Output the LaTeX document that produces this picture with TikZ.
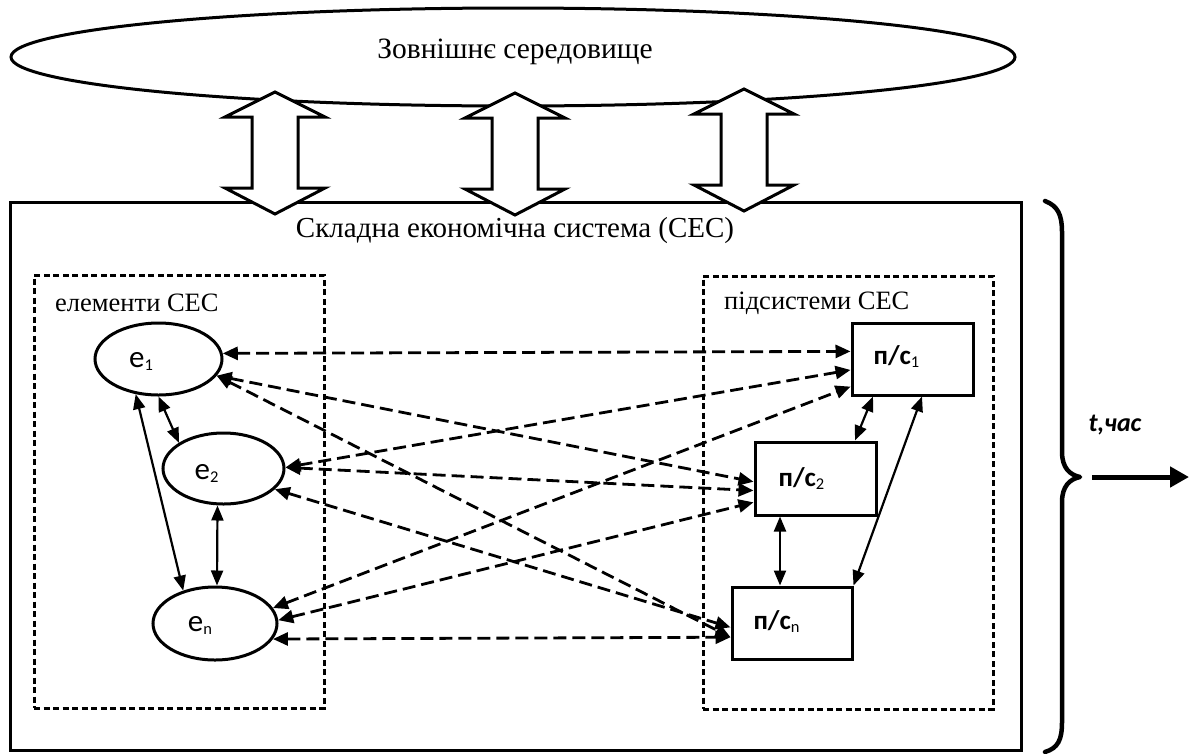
\documentclass[tikz,border=0pt]{standalone}
\usepackage{fontspec}
\setmainfont{Liberation Serif}
\newfontfamily\calfont{Carlito}
\usetikzlibrary{arrows.meta,shapes.geometric}
\newcommand\sbx[1]{\raisebox{-3pt}{\fontsize{16.5}{17}\selectfont\mdseries #1}}
\tikzset{
  elnode/.style={ellipse, draw, line width=3pt, inner sep=0pt},
  psnode/.style={rectangle, draw, line width=3pt, inner sep=0pt},
  dbox/.style={rectangle, draw, line width=3pt, dash pattern=on 6pt off 3.5pt, inner sep=0pt},
  dconn/.style={line width=2.8pt, dash pattern=on 13pt off 6pt,
    arrows={Triangle[length=15pt,width=13pt]-Triangle[length=15pt,width=13pt]}},
  sconn/.style={line width=2.2pt,
    arrows={Triangle[length=15pt,width=12pt]-Triangle[length=15pt,width=12pt]}},
  bigtext/.style={font=\fontsize{29}{32}\selectfont, inner sep=0pt},
  boxtext/.style={font=\fontsize{26.5}{29}\selectfont, inner sep=0pt, anchor=west},
  etext/.style={font=\calfont\fontsize{31}{33}\selectfont, inner sep=0pt},
  pstext/.style={font=\calfont\bfseries\fontsize{27}{30}\selectfont, inner sep=0pt},
  barrow/.pic={\draw[line width=3pt, fill=white, line join=miter]
     (0,-61) -- (50,-36) -- (23,-36) -- (23,35) -- (50,35) -- (0,61)
     -- (-50,35) -- (-23,35) -- (-23,-36) -- (-50,-36) -- cycle;}
}
\begin{document}
\begin{tikzpicture}[x=1pt,y=-1pt]
\useasboundingbox (0,0) rectangle (1196,753);
\fill[white] (0,0) rectangle (1196,753);
% environment
\node[elnode, minimum width=1004pt, minimum height=98pt] (env) at (513,57) {};
% system frame
\node[psnode, minimum width=1011pt, minimum height=548pt] (ces) at (515.5,476) {};
% block arrows
\pic at (275,153) {barrow};
\pic at (515,154) {barrow};
\pic at (744,150) {barrow};
\node[bigtext, font=\fontsize{29.5}{32}\selectfont] (envt) at (515,52) {Зовнішнє середовище};
\node[bigtext] (cest) at (515,231) {Складна економічна система (СЕС)};
% dashed group boxes
\node[dbox, minimum width=290pt, minimum height=433pt] (lbox) at (179,491.5) {};
\node[dbox, minimum width=290pt, minimum height=433pt] (rbox) at (848,492.5) {};
\node[boxtext] (lboxt) at (55,303) {елементи СЕС};
\node[boxtext] (rboxt) at (724,303) {підсистеми СЕС};
% elements
\node[elnode, minimum width=127pt, minimum height=72pt] (e1) at (158.5,359) {};
\node[elnode, minimum width=121pt, minimum height=71pt] (e2) at (223.5,468.5) {};
\node[elnode, minimum width=124pt, minimum height=73pt] (en) at (215,623.5) {};
\node[etext] (e1t) at (141,361) {e\sbx{1}};
\node[etext] (e2t) at (206.5,473) {e\sbx{2}};
\node[etext] (ent) at (200,625) {e\sbx{n}};
% subsystems
\node[psnode, minimum width=121pt, minimum height=72pt] (ps1) at (912.5,359) {};
\node[psnode, minimum width=121pt, minimum height=73pt] (ps2) at (815.5,478.5) {};
\node[psnode, minimum width=120pt, minimum height=72pt] (psn) at (792,623) {};
\node[pstext] (ps1t) at (896.5,357) {п/с\sbx{1}};
\node[pstext] (ps2t) at (801.5,479) {п/с\sbx{2}};
\node[pstext] (psnt) at (776.5,622) {п/с\sbx{n}};
% dashed connectors
\draw[dconn] (e1.5) -- (ps1.173);
\draw[dconn] (e1.-16) -- (ps2.183);
\draw[dconn] (e1.-16) -- (psn.193);
\draw[dconn] (e2.1) -- (ps1.190);
\draw[dconn] (e2.1) -- (ps2.191);
\draw[dconn] (e2.-22) -- (psn.184);
\draw[dconn] (en.15) -- (ps1.204);
\draw[dconn] (en.3) -- (ps2.201);
\draw[dconn] (en.-15) -- (psn.193);
% solid connectors
\draw[sconn] (e1.-90) -- (e2.150);
\draw[sconn] (e1.-123) -- (en.134);
\draw[sconn] ([xshift=-6pt]e2.south) -- ([xshift=2pt]en.north);
\draw[sconn] ([xshift=-39.5pt]ps1.south) -- ([xshift=39.5pt]ps2.north);
\draw[sconn] ([xshift=9.5pt]ps1.south) -- (psn.north east);
\draw[sconn] ([xshift=-35.5pt]ps2.south) -- ([xshift=-12pt]psn.north);
% brace and time arrow
\draw[line width=4.5pt, line cap=round, line join=round]
  (1045,201) .. controls (1058,206) and (1062,215) .. (1062,232)
  -- (1062,452) .. controls (1062,468) and (1070,475) .. (1080,477)
  .. controls (1070,479) and (1062,486) .. (1062,502)
  -- (1062,722) .. controls (1062,740) and (1058,748) .. (1045,752);
\coordinate (tstart) at (1092,477);
\coordinate (tend) at (1189,477);
\draw[line width=5pt, -{Triangle[length=19pt,width=20pt]}] (tstart) -- (tend);
\node[font=\calfont\bfseries\itshape\fontsize{26}{28}\selectfont, inner sep=0pt] (tlabel) at (1115,425) {t,час};
\end{tikzpicture}
\end{document}
